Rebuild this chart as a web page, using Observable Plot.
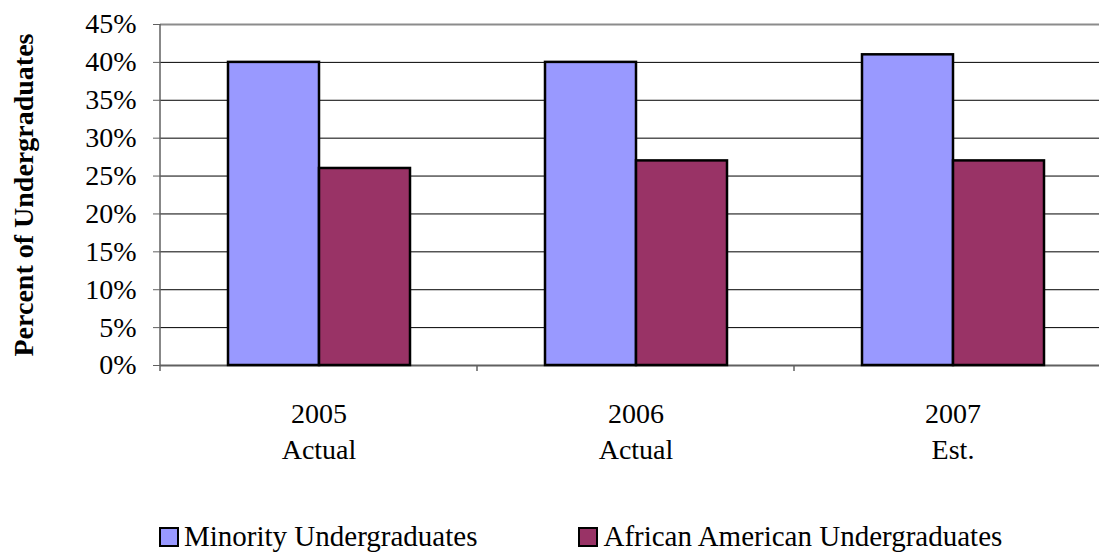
<!DOCTYPE html>
<html>
<head>
<meta charset="utf-8">
<script src="https://cdn.jsdelivr.net/npm/d3@7"></script>
<script src="https://cdn.jsdelivr.net/npm/@observablehq/plot@0.6"></script>
<style>
  body { margin: 0; background: #fff; font-family: "Liberation Serif", "Times New Roman", serif; }
  #wrap { position: relative; width: 1099px; height: 552px; overflow: hidden; }
  #chart { position: absolute; left: 0; top: 0; }
  #legend { position: absolute; top: 522px; left: 159px; height: 29px; line-height: 29px; display: flex; align-items: center; font-size: 29px; color: #000; white-space: nowrap; }
  .item { display: flex; align-items: center; height: 29px; }
  .sw { width: 20px; height: 20px; box-sizing: border-box; border: 2px solid #000; margin-right: 5px; }
</style>
</head>
<body>
<div id="wrap"><div id="chart"></div><div id="legend"></div></div>
<script>
const years = ["2005", "2006", "2007"];
const statuses = ["Actual", "Actual", "Est."];
const seriesNames = ["Minority Undergraduates", "African American Undergraduates"];
const minority = [40, 40, 41];
const africanAmerican = [26, 27, 27];
const colors = ["#9999FF", "#993366"];
const yTicks = [0, 5, 10, 15, 20, 25, 30, 35, 40, 45];

const table = [];
years.forEach((y, i) => {
  table.push({year: y, series: seriesNames[0], value: minority[i]});
  table.push({year: y, series: seriesNames[1], value: africanAmerican[i]});
});

const plot = Plot.plot({
  width: 1099,
  height: 480,
  marginLeft: 160,
  marginRight: -12,
  marginTop: 24,
  marginBottom: 115,
  style: {fontFamily: "Liberation Serif, Times New Roman, serif", background: "white", overflow: "visible"},
  fx: {domain: years, padding: 0, label: null},
  x: {domain: seriesNames, paddingInner: 0, paddingOuter: 0.74, axis: null},
  y: {domain: [0, 45], axis: null},
  color: {domain: seriesNames, range: colors},
  marks: [
    Plot.ruleY(yTicks.filter(d => d > 0 && d < 45), {y: d => d, stroke: "#000", strokeWidth: 1}),
    Plot.ruleY([45], {y: d => d, stroke: "#8c8c8c", strokeWidth: 2}),
    Plot.ruleY([0], {y: d => d, stroke: "#606060", strokeWidth: 2}),
    Plot.barY(table, {fx: "year", x: "series", y: "value", fill: "series", stroke: "#000", strokeWidth: 2.5}),
    Plot.axisY({ticks: yTicks, tickFormat: d => d + "%", tickSize: 7, tickPadding: 17, fontSize: 28, label: null, stroke: "#606060", color: "#000"}),
    Plot.axisY({ticks: [], label: "Percent of Undergraduates", labelArrow: "none", labelAnchor: "center", labelOffset: 147, fontSize: 28, fontWeight: "bold", color: "#000"}),
    Plot.axisFx({anchor: "bottom", tickSize: 0, tickPadding: 32, fontSize: 28, lineHeight: 1.29, label: null, color: "#000", tickFormat: (d) => d + "\n" + statuses[years.indexOf(d)]})
  ]
});

document.getElementById("chart").appendChild(plot);

// strip any arrow that an older Plot may add to the axis label
d3.select(plot).selectAll("text").each(function() {
  const t = this.textContent;
  if (/[\u2190-\u2193]/.test(t) && !this.querySelector("tspan")) this.textContent = t.replace(/\s*[\u2190-\u2193]\s*/g, "");
});

// axis line and category-boundary ticks, placed with the plot's own scales
const fx = plot.scale("fx");
const ys = plot.scale("y");
const svg = d3.select(plot);
const y0 = ys.apply(0), yTop = ys.apply(45);
const g = svg.append("g").attr("stroke", "#606060").attr("stroke-width", 1.5);
g.append("line").attr("x1", fx.apply(years[0])).attr("x2", fx.apply(years[0])).attr("y1", yTop).attr("y2", y0 + 6);
years.slice(1).forEach(y => {
  g.append("line").attr("x1", fx.apply(y)).attr("x2", fx.apply(y)).attr("y1", y0).attr("y2", y0 + 6);
});

const legend = document.getElementById("legend");
seriesNames.forEach((s, i) => {
  const item = document.createElement("div");
  item.className = "item";
  if (i > 0) item.style.marginLeft = "101px";
  const sw = document.createElement("div");
  sw.className = "sw";
  sw.style.background = colors[i];
  const t = document.createElement("span");
  t.textContent = s;
  item.appendChild(sw);
  item.appendChild(t);
  legend.appendChild(item);
});
</script>
</body>
</html>
